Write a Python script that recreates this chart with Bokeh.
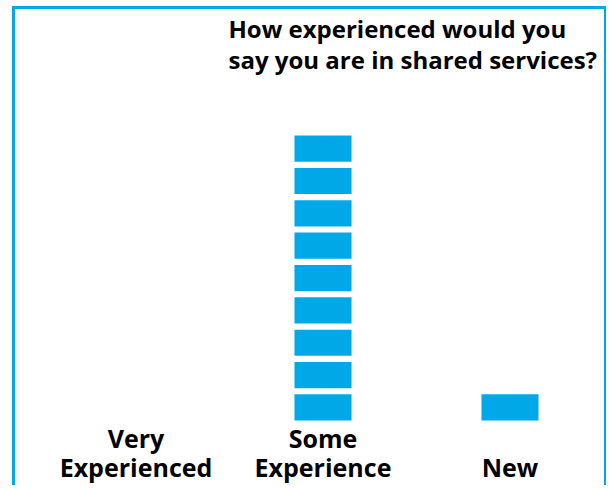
from bokeh.plotting import figure
from bokeh.models import Range1d, ColumnDataSource, FixedTicker
from bokeh.embed import file_html
from bokeh.resources import INLINE

categories = ["Very\nExperienced", "Some\nExperience", "New"]
counts = [0, 9, 1]
title_text = "How experienced would you\nsay you are in shared services?"

BLUE = "#00A8E8"

# category slots 0..n-1, centred at i + 0.5
centers = [i + 0.5 for i in range(len(categories))]

# expand counts into one block per respondent
bx, by = [], []
for c, n in zip(centers, counts):
    for k in range(n):
        bx.append(c)
        by.append(k + 0.5)
src = ColumnDataSource(dict(x=bx, y=by))

# bottom-align the tick labels (pad shorter labels with empty leading lines)
max_lines = max(c.count("\n") + 1 for c in categories)
tick_labels = {c: "\n" * (max_lines - (lab.count("\n") + 1)) + lab
               for c, lab in zip(centers, categories)}

p = figure(width=594, height=479,
           x_range=Range1d(0, len(categories)),
           y_range=Range1d(0.065, 10.607),
           output_backend="svg", toolbar_location=None,
           min_border_left=27, min_border_right=6,
           min_border_top=10, min_border_bottom=67,
           styles={"margin-left": "12px", "margin-top": "6px",
                   "border-left": "3px solid " + BLUE,
                   "border-top": "3px solid " + BLUE,
                   "border-right": "2px solid " + BLUE})

p.rect(x="x", y="y", width=0.305, height=0.81, source=src,
       fill_color=BLUE, line_color=None)

p.title.text = title_text
p.title.text_font = "Open Sans"
p.title.text_font_style = "bold"
p.title.text_font_size = "24px"
p.title.text_color = "#000000"
p.title.align = "left"
p.title.vertical_align = "top"
p.title.offset = 186
p.title.standoff = 4
p.title.text_line_height = 0.96

p.yaxis.visible = False
p.xaxis.ticker = FixedTicker(ticks=centers)
p.xaxis.major_label_overrides = tick_labels
p.xaxis.axis_line_color = None
p.xaxis.major_tick_line_color = None
p.xaxis.minor_tick_line_color = None
p.xaxis.major_label_text_font = "Open Sans"
p.xaxis.major_label_text_font_style = "bold"
p.xaxis.major_label_text_font_size = "25px"
p.xaxis.major_label_text_color = "#000000"
p.xaxis.major_label_standoff = -7
p.xaxis.major_label_text_line_height = 0.86
p.xgrid.grid_line_color = None
p.ygrid.grid_line_color = None
p.outline_line_color = None

open("out.html", "w").write(file_html(p, INLINE))
